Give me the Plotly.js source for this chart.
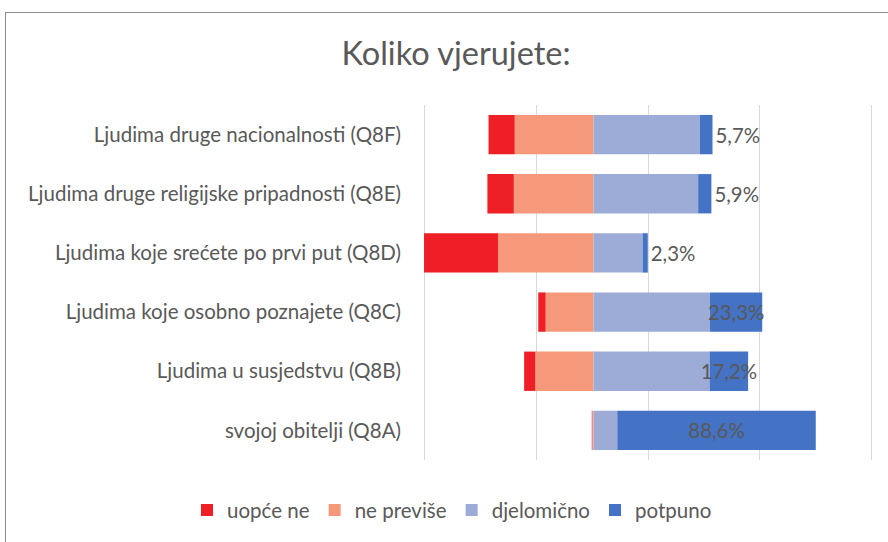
<!DOCTYPE html>
<html>
<head>
<meta charset="utf-8">
<script src="https://cdn.plot.ly/plotly-3.0.1.min.js"></script>
<style>
  html, body { margin: 0; padding: 0; background: #ffffff; overflow: hidden; }
  #chart { width: 888px; height: 542px; position: absolute; left: 0; top: 0; }
  #frame { position: absolute; left: 5px; top: 12px; width: 1000px; height: 1000px;
           border: 1px solid #8c8c8c; pointer-events: none; }
</style>
</head>
<body>
<div id="chart"></div>
<div id="frame"></div>
<script>
const chartTitle = "Koliko vjerujete:";
const categories = [
  "Ljudima druge nacionalnosti (Q8F)",
  "Ljudima druge religijske pripadnosti (Q8E)",
  "Ljudima koje srećete po prvi put (Q8D)",
  "Ljudima koje osobno poznajete (Q8C)",
  "Ljudima u susjedstvu (Q8B)",
  "svojoj obitelji (Q8A)"
];
const seriesNames = ["uopće ne", "ne previše", "djelomično", "potpuno"];
const uopceNe    = [11.7, 11.8, 33.1,  3.3,  5.0,  0.2];
const nePrevise  = [35.2, 35.6, 42.6, 21.4, 26.0,  0.6];
const djelomicno = [47.4, 46.7, 21.9, 52.0, 51.8, 10.6];
const potpuno    = [ 5.7,  5.9,  2.3, 23.3, 17.2, 88.6];

const colors = ["#EE1F25", "#F5997A", "#9DACD6", "#4472C4"];
const labelPos = ["outside", "outside", "outside", "inside", "inside", "inside"];
const textColor = "#595959";
const fontFam = "Lato, 'Open Sans', sans-serif";

const fmt = v => v.toFixed(1).replace(".", ",") + "%";
const leftMax = Math.max(...uopceNe.map((v, i) => v + nePrevise[i]));
const neg = arr => arr.map(v => -v);

const common = {
  type: "bar", orientation: "h", y: categories, hoverinfo: "skip"
};

const labelFont = { family: fontFam, size: 20.4, color: textColor };

const traces = [
  Object.assign({}, common, { name: seriesNames[1], x: neg(nePrevise),
    marker: { color: colors[1], line: { width: 0 } }, legendrank: 2 }),
  Object.assign({}, common, { name: seriesNames[0], x: neg(uopceNe),
    marker: { color: colors[0], line: { width: 0 } }, legendrank: 1 }),
  Object.assign({}, common, { name: seriesNames[2], x: djelomicno,
    marker: { color: colors[2], line: { width: 0 } }, legendrank: 3 }),
  Object.assign({}, common, { name: seriesNames[3], x: potpuno,
    marker: { color: colors[3], line: { width: 0 } }, legendrank: 4,
    text: potpuno.map(fmt), textposition: labelPos, constraintext: "none",
    textangle: 0, cliponaxis: false, insidetextanchor: "middle",
    textfont: labelFont, insidetextfont: labelFont, outsidetextfont: labelFont })
];

const gridSteps = [0, 50, 100, 150, 200];
const edgeSlack = 0.9;   // keep the outer gridlines inside the plot area

const layout = {
  width: 888, height: 542,
  paper_bgcolor: "rgba(0,0,0,0)", plot_bgcolor: "rgba(0,0,0,0)",
  margin: { l: 422, r: 14, t: 105, b: 76, pad: 0 },
  barmode: "relative", bargap: 0.335,
  font: { family: fontFam, color: textColor },
  title: { text: chartTitle, x: 456 / 888, xref: "container", xanchor: "center",
           y: 1 - 54 / 542, yref: "container", yanchor: "middle",
           font: { family: fontFam, size: 32.5, color: textColor } },
  xaxis: { range: [-leftMax - edgeSlack, 200 - leftMax + edgeSlack], tickmode: "array",
           tickvals: gridSteps.map(v => v - leftMax), showticklabels: false,
           showgrid: true, gridcolor: "#d9d9d9", gridwidth: 1,
           zeroline: false, showline: false, fixedrange: true },
  yaxis: { autorange: "reversed", showgrid: false, zeroline: false, showline: false,
           ticks: "", ticklabelstandoff: 20,
           tickfont: { family: fontFam, size: 20.5, color: textColor }, fixedrange: true },
  showlegend: true,
  legend: { orientation: "h", xref: "paper", yref: "paper",
            x: (187 - 422) / 452, xanchor: "left", y: (466 - 517) / 361, yanchor: "middle",
            font: { family: fontFam, size: 20.5, color: textColor },
            itemwidth: 30, traceorder: "normal", itemclick: false, itemdoubleclick: false }
};

Plotly.newPlot("chart", traces, layout, { displayModeBar: false, staticPlot: true });
</script>
</body>
</html>
